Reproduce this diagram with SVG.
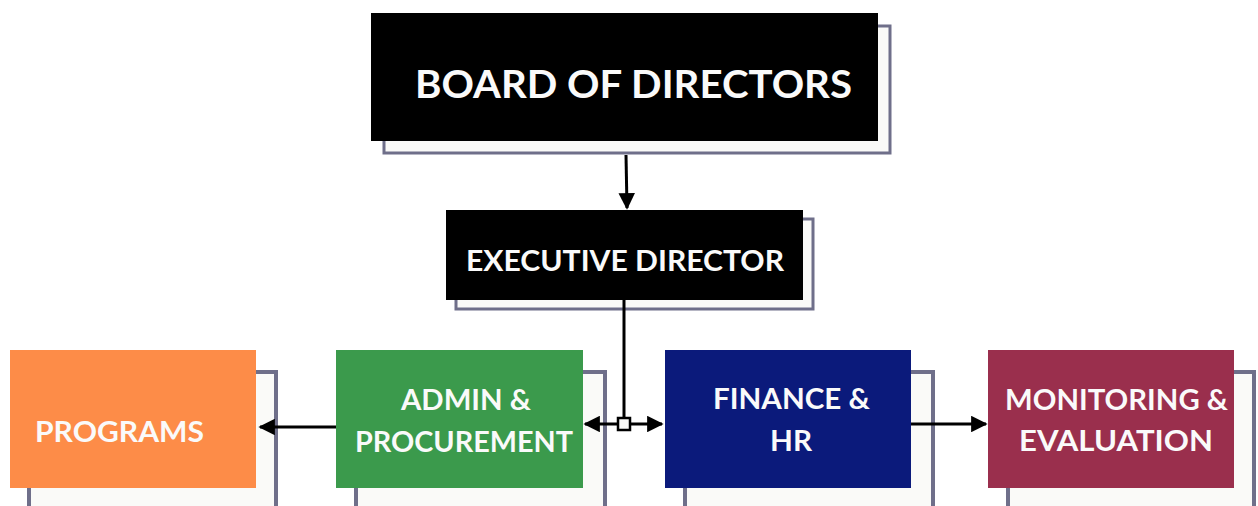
<svg xmlns="http://www.w3.org/2000/svg" width="1258" height="506" viewBox="0 0 1258 506">
<defs>
<style>
.shadow{fill:#fafaf8;stroke:#6f6f8a;stroke-width:4}
.shadow-top{fill:#fafaf8;stroke:#6f6f8a;stroke-width:3}
.lbl{font-family:Lato,"Liberation Sans",sans-serif;font-weight:700;fill:#fafafa}
.conn{stroke:#000;stroke-width:3;fill:none}
</style>
<marker id="ah" viewBox="0 0 10 10" refX="9" refY="5" markerWidth="5.5" markerHeight="5.5" orient="auto-start-reverse" markerUnits="strokeWidth">
<path d="M0,0 L10,5 L0,10 z" fill="#000"/>
</marker>
</defs>
<rect width="1258" height="506" fill="#ffffff"/>

<g id="board">
<rect class="shadow-top" x="384" y="26" width="506" height="127"/>
<rect x="371" y="13" width="507" height="128" fill="#000"/>
<text class="lbl" x="415" y="98" font-size="39" textLength="437" lengthAdjust="spacingAndGlyphs">BOARD OF DIRECTORS</text>
</g>

<g id="executive">
<rect class="shadow-top" x="456" y="219" width="357" height="90"/>
<rect x="446" y="210" width="357" height="90" fill="#000"/>
<text class="lbl" x="466" y="271" font-size="28" textLength="318" lengthAdjust="spacingAndGlyphs">EXECUTIVE DIRECTOR</text>
</g>

<g id="programs">
<rect class="shadow" x="29" y="372" width="247" height="150"/>
<rect x="10" y="350" width="246" height="138" fill="#fd8c48"/>
<text class="lbl" x="35" y="442" font-size="28" textLength="169" lengthAdjust="spacingAndGlyphs">PROGRAMS</text>
</g>

<g id="admin">
<rect class="shadow" x="356" y="372" width="249" height="150"/>
<rect x="336" y="350" width="247" height="138" fill="#3b9a4c"/>
<text class="lbl" x="401" y="410" font-size="28" textLength="130" lengthAdjust="spacingAndGlyphs">ADMIN &amp;</text>
<text class="lbl" x="355" y="452" font-size="28" textLength="218" lengthAdjust="spacingAndGlyphs">PROCUREMENT</text>
</g>

<g id="finance">
<rect class="shadow" x="685" y="372" width="248" height="150"/>
<rect x="665" y="350" width="246" height="138" fill="#0b1a7b"/>
<text class="lbl" x="713" y="409" font-size="28" textLength="157" lengthAdjust="spacingAndGlyphs">FINANCE &amp;</text>
<text class="lbl" x="770" y="451" font-size="28" textLength="42" lengthAdjust="spacingAndGlyphs">HR</text>
</g>

<g id="monitoring">
<rect class="shadow" x="1008" y="372" width="246" height="150"/>
<rect x="988" y="350" width="246" height="138" fill="#9a2f4d"/>
<text class="lbl" x="1005" y="410" font-size="28" textLength="223" lengthAdjust="spacingAndGlyphs">MONITORING &amp;</text>
<text class="lbl" x="1019" y="451" font-size="28" textLength="194" lengthAdjust="spacingAndGlyphs">EVALUATION</text>
</g>

<g id="connectors">
<line class="conn" x1="626" y1="155" x2="627" y2="208" marker-end="url(#ah)"/>
<line class="conn" x1="624" y1="300" x2="624" y2="418"/>
<line class="conn" x1="585" y1="424" x2="662" y2="424" marker-start="url(#ah)" marker-end="url(#ah)"/>
<rect x="618" y="418" width="12" height="12" fill="#fafaf8" stroke="#000" stroke-width="2.5"/>
<line class="conn" x1="336" y1="427" x2="260" y2="427" marker-end="url(#ah)"/>
<line class="conn" x1="911" y1="424" x2="986" y2="424" marker-end="url(#ah)"/>
</g>
</svg>
